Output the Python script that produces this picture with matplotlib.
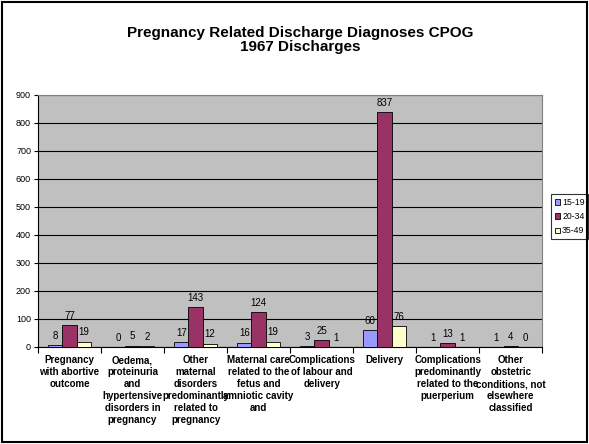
import numpy as np
import matplotlib.pyplot as plt
from matplotlib.patches import Rectangle

plt.rcParams['font.family'] = ['Liberation Sans', 'DejaVu Sans']

# Data
categories = [
    'Pregnancy\nwith abortive\noutcome',
    'Oedema,\nproteinuria\nand\nhypertensive\ndisorders in\npregnancy',
    'Other\nmaternal\ndisorders\npredominantly\nrelated to\npregnancy',
    'Maternal care\nrelated to the\nfetus and\namniotic cavity\nand',
    'Complications\nof labour and\ndelivery',
    'Delivery',
    'Complications\npredominantly\nrelated to the\npuerperium',
    'Other\nobstetric\nconditions, not\nelsewhere\nclassified',
]
age_groups = ['15-19', '20-34', '35-49']
vals_15_19 = [8, 0, 17, 16, 3, 60, 1, 1]
vals_20_34 = [77, 5, 143, 124, 25, 837, 13, 4]
vals_35_49 = [19, 2, 12, 19, 1, 76, 1, 0]
colors = ['#9999FF', '#993366', '#FFFFCC']

fig = plt.figure(figsize=(5.89, 4.44), dpi=100)
fig.patches.append(Rectangle((0.003, 0.005), 0.993, 0.99, transform=fig.transFigure,
                             fill=False, edgecolor='black', linewidth=1.5))

ax = fig.add_axes([0.0645, 0.2185, 0.856, 0.568])
ax.set_facecolor('#C0C0C0')

x = np.arange(len(categories))
w = 0.227
series = [vals_15_19, vals_20_34, vals_35_49]
for i, (vals, c, lab) in enumerate(zip(series, colors, age_groups)):
    bars = ax.bar(x + (i - 1) * w, vals, w, color=c, edgecolor='black', linewidth=0.6, label=lab, zorder=3)
    for b, v in zip(bars, vals):
        ax.annotate(str(v), (b.get_x() + b.get_width() / 2, v), xytext=(0, 3),
                    textcoords='offset points', ha='center', va='bottom', fontsize=7, zorder=4)

ax.set_ylim(0, 900)
ax.set_xlim(-0.5, len(categories) - 0.5)
ax.set_yticks(np.arange(0, 901, 100))
ax.tick_params(axis='y', labelsize=6.5, length=3, width=0.8, direction='out', pad=2)
ax.grid(axis='y', color='black', linewidth=0.8, zorder=1)

ax.set_xticks(x)
ax.set_xticklabels(categories, fontsize=7, fontweight='bold', linespacing=1.25, va='top')
ax.tick_params(axis='x', length=0, pad=6)
ax.set_xticks(np.arange(-0.5, len(categories) + 0.5, 1), minor=True)
ax.tick_params(axis='x', which='minor', length=4, width=0.8, direction='out')

for s in ['top', 'right']:
    ax.spines[s].set_color('#808080')
ax.spines['left'].set_color('black')
ax.spines['bottom'].set_color('black')

leg = ax.legend(loc='upper left', bbox_to_anchor=(1.018, 0.605), fontsize=6.3, frameon=True,
                fancybox=False, edgecolor='black', handlelength=0.6, handleheight=0.6,
                handletextpad=0.25, borderpad=0.4, labelspacing=0.6, borderaxespad=0)
leg.get_frame().set_linewidth(0.8)

fig.text(0.509, 0.91, 'Pregnancy Related Discharge Diagnoses CPOG\n1967 Discharges',
         ha='center', va='center', fontsize=11, fontweight='bold', linespacing=1.05)

fig.savefig('out.png', dpi=100)
